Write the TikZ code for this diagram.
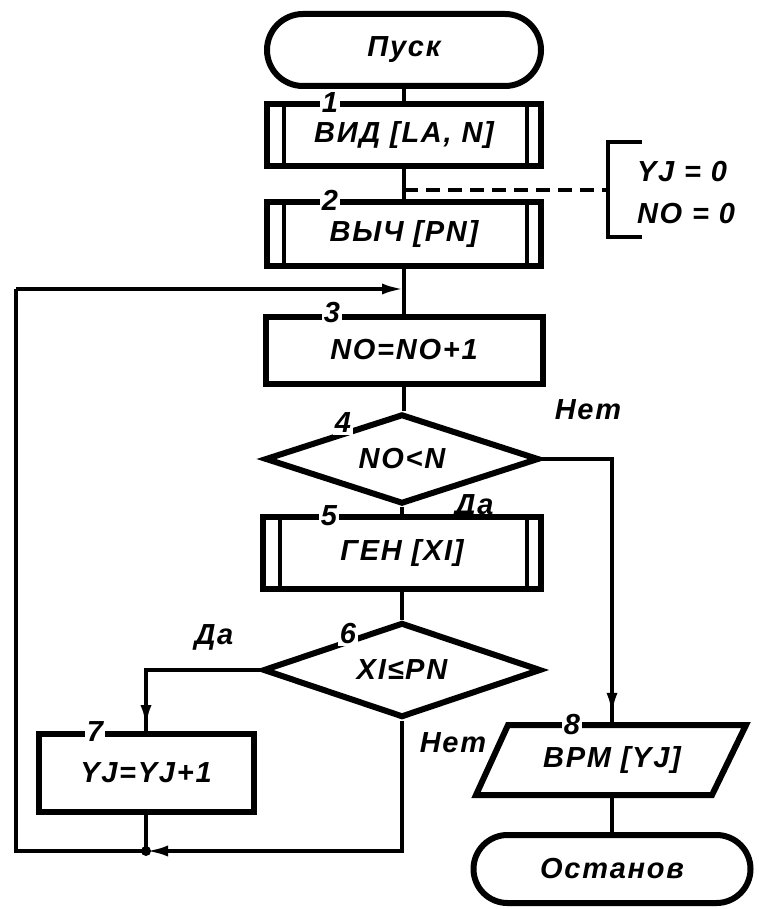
\documentclass[tikz,border=0pt]{standalone}
\usepackage{fontspec}
\setmainfont{Liberation Sans}[LetterSpace=6]
\usetikzlibrary{shapes.geometric,shapes.misc,arrows.meta,calc}
\newcommand{\txtfont}{\fontsize{29}{34}\selectfont\bfseries\itshape}
\begin{document}
\begin{tikzpicture}[x=1pt,y=-1pt,
  blk/.style={draw,line width=6pt,inner sep=0pt,font=\txtfont},
  proc/.style={blk,rectangle},
  subr/.style={proc,path picture={
     \draw[line width=3.5pt] ([xshift=17pt]path picture bounding box.north west) -- ([xshift=17pt]path picture bounding box.south west);
     \draw[line width=3.5pt] ([xshift=-14pt]path picture bounding box.north east) -- ([xshift=-14pt]path picture bounding box.south east);}},
  term/.style={blk,rounded rectangle},
  dec/.style={blk,diamond,aspect=3},
  num/.style={fill=white,inner sep=2pt,font=\txtfont},
  lbl/.style={inner sep=0pt,font=\txtfont},
  conn/.style={line width=3.8pt},
  arr/.style={conn,-{Latex[length=22pt,width=11pt]}},
  dashconn/.style={conn,dash pattern=on 14pt off 8pt}]
\useasboundingbox (0,0) rectangle (758,909);

% nodes
\node[term,minimum width=274pt,minimum height=72pt] (start) at (404,50) {Пуск};
\node[subr,minimum width=274pt,minimum height=62pt] (b1) at (404,135) {ВИД [LA, N]};
\node[subr,minimum width=274pt,minimum height=64pt] (b2) at (404,234) {ВЫЧ [PN]};
\node[proc,minimum width=277pt,minimum height=67pt] (b3) at (404,350) {NO=NO+1};
\node[dec,minimum width=274pt,minimum height=90pt] (d4) at (402,459) {NO<N};
\node[subr,minimum width=278pt,minimum height=72pt] (b5) at (402,553) {ГЕН [XI]};
\node[dec,minimum width=278pt,minimum height=95pt] (d6) at (402,670) {XI≤PN};
\node[proc,minimum width=215pt,minimum height=78pt] (b7) at (146,773) {YJ=YJ+1};
\node[lbl,minimum width=237pt,minimum height=70pt] (p8) at (612,760) {ВРМ [YJ]};
\draw[line width=6pt,line join=miter] (508,725) -- (746,725) -- (712,795) -- (476,795) -- cycle;
\node[term,minimum width=277pt,minimum height=68pt] (stop) at (612,869) {Останов};

\node[lbl,align=left] (ann) at (686,193) {YJ = 0\\[8pt]NO = 0};

% coordinates
\coordinate (jt) at (404,289);
\coordinate (jb) at (146,851);
\coordinate (ljb) at (16,851);
\coordinate (ljt) at (16,289);
\coordinate (dsrc) at (404,190);
\coordinate (bt) at (642,142);
\coordinate (btl) at (608,142);
\coordinate (bbl) at (608,237);
\coordinate (bb) at (642,237);
\coordinate (bm) at (608,190);

% connectors
\draw[conn] (start.south) -- (b1.north);
\draw[conn] (b1.south) -- (b2.north);
\draw[conn] (b2.south) -- (b3.north);
\draw[conn] (b3.south) -- (b3.south |- d4.north);
\draw[conn] (d4.south) -- (b5.north);
\draw[conn] (b5.south) -- (d6.north);
\draw[conn] (d4.east) -| (p8.north);
\draw[arr] ($(p8.north)+(0,-45)$) -- ($(p8.north)+(0,-10)$);
\draw[conn] (d6.west) -| (b7.north);
\draw[arr] ($(b7.north)+(0,-45)$) -- ($(b7.north)+(0,-4)$);
\draw[conn] (b7.south) -- (jb);
\draw[arr] (d6.south) |- (jb);
\fill (jb) circle (5pt);
\draw[conn] (jb) -- (ljb) -- (ljt);
\draw[arr] (ljt) -- (jt);
\draw[conn] (p8.south) -- (stop.north);

% annotation
\draw[dashconn] (dsrc) -- (bm);
\draw[conn] (bt) -- (btl) -- (bbl) -- (bb);

% numbers
\node[num] at (330,103) {1};
\node[num] at (330,200) {2};
\node[num] at (332,313) {3};
\node[num] at (343,423) {4};
\node[num] at (329,516) {5};
\node[num] at (348,634) {6};
\node[num] at (95,732) {7};
\node[num] at (572,725) {8};

% branch labels
\node[lbl] (n4) at (588,410) {Нет};
\node[lbl] (y4) at (474,507) {Да};
\node[lbl] (y6) at (214,637) {Да};
\node[lbl] (n6) at (453,743) {Нет};
\end{tikzpicture}
\end{document}
